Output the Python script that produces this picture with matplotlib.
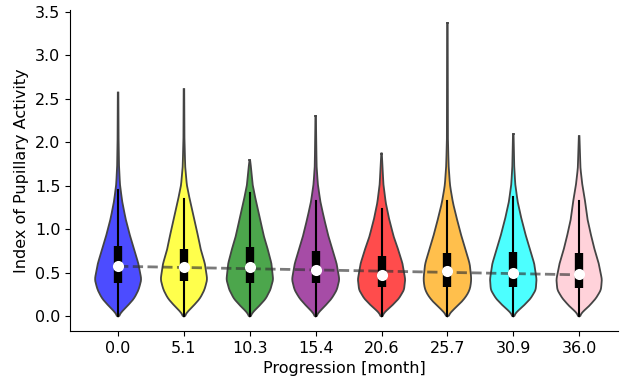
import numpy as np
import matplotlib
matplotlib.use("Agg")
import matplotlib.pyplot as plt

# ---- data ----
tick_labels = ["0.0", "5.1", "10.3", "15.4", "20.6", "25.7", "30.9", "36.0"]
colors = ["blue", "yellow", "green", "purple", "red", "orange", "cyan", "pink"]

# box-plot statistics per group
medians = [0.58, 0.56, 0.56, 0.53, 0.47, 0.52, 0.50, 0.48]
q1 = [0.38, 0.40, 0.38, 0.38, 0.34, 0.34, 0.34, 0.33]
q3 = [0.81, 0.77, 0.79, 0.75, 0.69, 0.73, 0.74, 0.73]
whisk_lo = [0.0, 0.0, 0.0, 0.0, 0.0, 0.0, 0.0, 0.0]
whisk_hi = [1.45, 1.35, 1.42, 1.33, 1.23, 1.33, 1.37, 1.33]
maxima = [2.57, 2.61, 1.79, 2.30, 1.87, 3.37, 2.09, 2.07]

# violin half-widths (in category units) at common value levels
levels = [0.0, 0.05, 0.1, 0.2, 0.3, 0.42, 0.6, 0.75, 0.9, 1.1, 1.3, 1.5, 1.7, 2.0]
hw_blue = [0.01, 0.05, 0.12, 0.24, 0.31, 0.354, 0.31, 0.25, 0.19, 0.12, 0.066, 0.03, 0.015, 0.008]
hw_yellow = [0.01, 0.05, 0.12, 0.24, 0.31, 0.354, 0.32, 0.26, 0.22, 0.16, 0.10, 0.045, 0.02, 0.008]
hw_green = [0.01, 0.05, 0.12, 0.24, 0.31, 0.354, 0.33, 0.28, 0.22, 0.16, 0.10, 0.045, 0.02, 0.01]
hw_purple = [0.01, 0.05, 0.12, 0.24, 0.32, 0.36, 0.32, 0.26, 0.20, 0.135, 0.075, 0.035, 0.015, 0.008]
hw_red = [0.01, 0.05, 0.13, 0.26, 0.34, 0.36, 0.32, 0.26, 0.19, 0.12, 0.065, 0.03, 0.015, 0.008]
hw_orange = [0.01, 0.05, 0.13, 0.26, 0.34, 0.364, 0.34, 0.28, 0.22, 0.15, 0.085, 0.04, 0.02, 0.008]
hw_cyan = [0.01, 0.05, 0.13, 0.26, 0.34, 0.354, 0.32, 0.26, 0.20, 0.13, 0.07, 0.032, 0.015, 0.008]
hw_pink = [0.01, 0.05, 0.13, 0.25, 0.33, 0.346, 0.30, 0.24, 0.19, 0.13, 0.095, 0.05, 0.02, 0.008]
half_widths = [hw_blue, hw_yellow, hw_green, hw_purple, hw_red, hw_orange, hw_cyan, hw_pink]

# ---- figure ----
fig = plt.figure(figsize=(6.22, 3.84), dpi=100)
ax = fig.add_axes([70 / 622, 53 / 384, 548 / 622, 321 / 384])

positions = np.arange(len(tick_labels))

def smooth(a, k=9):
    ker = np.ones(k) / k
    pad = np.pad(a, k // 2, mode="edge")
    return np.convolve(pad, ker, mode="valid")

for i, pos in enumerate(positions):
    lv = np.array(levels)
    hw = np.array(half_widths[i])
    keep = lv < maxima[i] - 0.05
    lv = np.append(lv[keep], maxima[i])
    hw = np.append(hw[keep], 0.004)
    yy = np.linspace(0, maxima[i], 500)
    ww = np.interp(yy, lv, hw)
    ww = smooth(ww, 15)
    ww[0] = 0.005
    ax.fill_betweenx(yy, pos - ww, pos + ww, facecolor=colors[i], alpha=0.7,
                     edgecolor="none", zorder=2)
    ax.plot(pos - ww, yy, color="#444444", lw=1.3, zorder=3)
    ax.plot(pos + ww, yy, color="#444444", lw=1.3, zorder=3)
    ax.plot([pos - ww[-1], pos + ww[-1]], [yy[-1], yy[-1]], color="#444444", lw=1.3, zorder=3)
    # whiskers and box
    ax.plot([pos, pos], [whisk_lo[i], whisk_hi[i]], color="black", lw=1.5, zorder=5)
    ax.plot([pos, pos], [q1[i], q3[i]], color="black", lw=6, solid_capstyle="butt", zorder=5)

# trend line through the medians
coef = np.polyfit(positions, medians, 1)
ax.plot([positions[0], positions[-1]], np.polyval(coef, [positions[0], positions[-1]]),
        linestyle="--", color="#333333", alpha=0.65, lw=2, zorder=4)

ax.plot(positions, medians, "o", color="white", markersize=8, markeredgewidth=0, zorder=6)

ax.set_xlim(-0.73, 7.59)
ax.set_ylim(-0.17, 3.52)
ax.set_xticks(positions)
ax.set_xticklabels(tick_labels)
ax.set_yticks([0.0, 0.5, 1.0, 1.5, 2.0, 2.5, 3.0, 3.5])
ax.tick_params(labelsize=11.5)
ax.set_xlabel("Progression [month]", fontsize=11.5)
ax.set_ylabel("Index of Pupillary Activity", fontsize=11.5)
ax.spines["top"].set_visible(False)
ax.spines["right"].set_visible(False)

fig.savefig("out.png", dpi=100)
